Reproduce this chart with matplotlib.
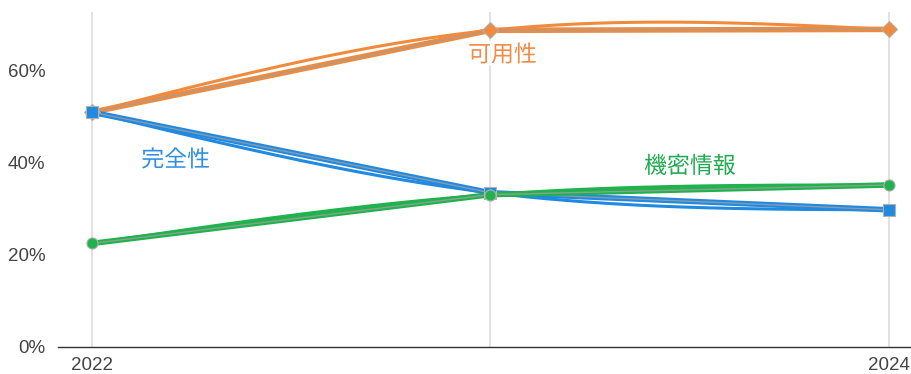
import numpy as np
import matplotlib.pyplot as plt
from matplotlib import patheffects as pe

plt.rcParams['font.family'] = ['Liberation Sans', 'Noto Sans CJK JP', 'DejaVu Sans']

# data (percent)
years = [2022, 2023, 2024]
availability = [51.0, 68.8, 69.0]
integrity = [51.0, 33.5, 29.8]
confidentiality = [22.5, 33.1, 35.2]
names = ['可用性', '完全性', '機密情報']
yticks = [0, 20, 40, 60]


def smooth(x, y, n=200):
    # natural cubic spline through the points, for drawing only
    x = np.asarray(x, float)
    y = np.asarray(y, float)
    k = len(x)
    h = np.diff(x)
    A = np.zeros((k, k))
    b = np.zeros(k)
    A[0, 0] = A[-1, -1] = 1
    for i in range(1, k - 1):
        A[i, i - 1] = h[i - 1]
        A[i, i] = 2 * (h[i - 1] + h[i])
        A[i, i + 1] = h[i]
        b[i] = 6 * ((y[i + 1] - y[i]) / h[i] - (y[i] - y[i - 1]) / h[i - 1])
    M = np.linalg.solve(A, b)
    xs = np.linspace(x[0], x[-1], n)
    ys = np.empty_like(xs)
    for j, t in enumerate(xs):
        i = min(np.searchsorted(x, t, side='right') - 1, k - 2)
        a = x[i + 1] - t
        c = t - x[i]
        ys[j] = (M[i] * a**3 + M[i + 1] * c**3) / (6 * h[i]) \
            + (y[i] - M[i] * h[i]**2 / 6) * a / h[i] \
            + (y[i + 1] - M[i + 1] * h[i]**2 / 6) * c / h[i]
    return xs, ys


fig = plt.figure(figsize=(9.11, 3.74), dpi=100)
ax = fig.add_axes([0.0637, 0.0722, 0.9363, 0.896])

orange = '#F08A3C'
blue = '#2089E0'
green = '#20B24C'

for xv in years:
    ax.axvline(xv, color='#dddddd', lw=1.2, zorder=0)

series = [(availability, orange, 'D'), (integrity, blue, 's'), (confidentiality, green, 'o')]
for vals, col, mk in series:
    xs, ys = smooth(years, vals)
    ax.plot(xs, ys, color=col, lw=2.2, zorder=2, solid_capstyle='round')
    ax.plot(years, vals, color=col, lw=4.0, zorder=3, solid_capstyle='round')
    ax.plot(years, vals, color='#a0a0a0', lw=1.0, alpha=0.8, zorder=3)
    ax.plot(years, vals, linestyle='none', marker=mk, ms=8,
            mfc=col, mec='#b0b0b0', mew=0.8, zorder=4)

halo = [pe.withStroke(linewidth=5, foreground='white')]
ax.text(2023.03, 63.4, names[0], color='#EE8C4A', fontsize=16.5, ha='center', va='center',
        path_effects=halo, zorder=5)
ax.text(2022.21, 40.6, names[1], color='#2F8FE0', fontsize=16.5, ha='center', va='center',
        path_effects=halo, zorder=5)
ax.text(2023.5, 39.2, names[2], color='#22AA50', fontsize=16.5, ha='center', va='center',
        path_effects=halo, zorder=5)

ax.set_xlim(2022 - 0.085, 2024 + 0.055)
ax.set_ylim(0, 72.8)
ax.set_xticks([2022, 2024])
ax.set_xticklabels(['2022', '2024'])
ax.set_yticks(yticks)
ax.set_yticklabels([f'{v}%' for v in yticks])
ax.tick_params(axis='both', length=0, labelsize=13.5, colors='#444444')
ax.tick_params(axis='y', pad=9)
ax.tick_params(axis='x', pad=7)
for s in ['top', 'right', 'left']:
    ax.spines[s].set_visible(False)
ax.spines['bottom'].set_color('#333333')
ax.spines['bottom'].set_linewidth(1.0)

fig.savefig('out.png', dpi=100)
